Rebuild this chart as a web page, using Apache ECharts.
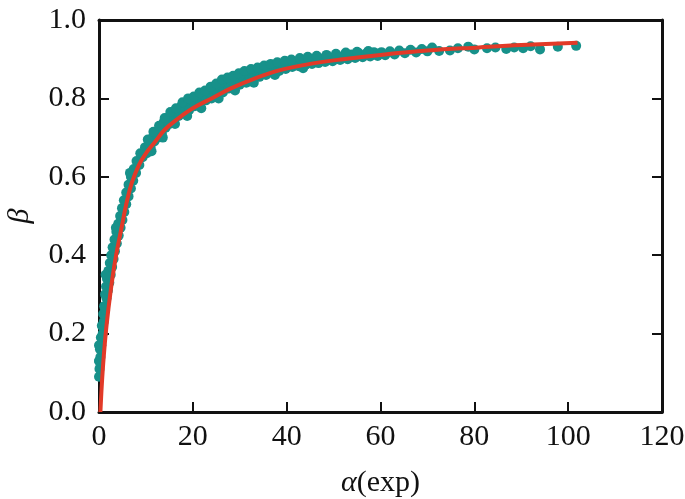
<!DOCTYPE html>
<html><head><meta charset="utf-8">
<script src="https://cdn.jsdelivr.net/npm/echarts@6/dist/echarts.min.js"></script>
<style>html,body{margin:0;padding:0;background:#fff}#c{width:685px;height:499px}</style>
</head><body><div id="c"></div>
<script>
// scatter data: alpha(exp) values and beta values
var scatterX = [0.0,0.1,0.05,0.3,0.2,0.5,0.4,0.8,0.6,1.0,0.9,1.3,1.1,1.6,1.3,1.9,1.5,2.2,1.7,2.5,2.0,2.8,2.3,3.1,2.6,3.4,2.9,3.8,3.3,4.2,3.7,4.6,4.1,5.0,4.5,5.4,4.9,5.8,5.3,6.3,5.8,6.8,6.3,7.3,6.8,7.9,7.4,8.6,8.0,9.3,8.8,
9.8,10.2,10.6,11.0,11.4,11.8,12.2,12.6,13.0,13.4,13.8,14.2,14.6,15.0,15.5,16.0,16.5,17.0,17.5,18.0,18.6,19.2,19.8,20.4,21.0,21.6,22.2,22.8,23.4,24.0,24.6,25.2,25.8,26.4,27.0,27.6,28.2,28.8,29.4,30.0,30.7,31.4,32.1,32.8,33.5,34.2,34.9,35.6,36.3,37.0,37.7,38.4,39.1,39.8,40.5,41.2,41.9,42.6,43.3,44.0,44.7,45.4,46.1,46.8,47.5,48.2,49.0,49.8,50.6,51.4,52.2,53.0,53.8,54.6,55.4,56.2,57.0,57.8,58.6,59.4,60.2,61.0,62.0,63.0,64.0,65.2,66.4,67.6,68.8,70.0,71.0,72.5,74.8,76.5,78.7,80.0,82.7,84.5,86.8,88.5,90.4,92.0,94.0,97.8,101.7,
10.4,11.6,12.8,14.0,15.2,16.4,17.8,19.0,20.2,21.4,22.6,23.8,25.0,26.2,27.4,28.6,29.8,31.0,32.4,33.8,35.2,36.6,38.0,39.6,41.0,42.8,44.5,46.4,48.5,50.5,52.6,55.0,57.4,
11.2,13.6,16.2,18.8,21.8,25.5,29.0,33.0,37.5,43.5,
0.0,0.0,1.4,3.6,6.6];
var scatterY = [0.09,0.11,0.13,0.14,0.16,0.17,0.19,0.20,0.22,0.23,0.25,0.26,0.27,0.29,0.30,0.31,0.32,0.33,0.34,0.35,0.36,0.37,0.38,0.39,0.40,0.41,0.42,0.43,0.44,0.45,0.46,0.47,0.48,0.49,0.50,0.51,0.52,0.53,0.54,0.55,0.56,0.57,0.58,0.59,0.60,0.61,0.62,0.63,0.64,0.65,0.66,
0.675,0.66,0.685,0.675,0.70,0.69,0.715,0.70,0.725,0.71,0.74,0.725,0.75,0.735,0.76,0.745,0.77,0.755,0.78,0.765,0.785,0.77,0.795,0.78,0.80,0.785,0.81,0.795,0.815,0.80,0.825,0.81,0.83,0.815,0.84,0.825,0.845,0.83,0.85,0.835,0.855,0.84,0.86,0.85,0.865,0.855,0.87,0.86,0.875,0.865,0.88,0.87,0.885,0.875,0.89,0.88,0.892,0.882,0.895,0.885,0.898,0.888,0.90,0.89,0.902,0.893,0.905,0.895,0.908,0.898,0.91,0.90,0.912,0.903,0.915,0.905,0.915,0.907,0.918,0.908,0.918,0.91,0.92,0.912,0.922,0.915,0.924,0.917,0.926,0.92,0.93,0.921,0.922,0.928,0.932,0.925,0.928,0.93,0.926,0.93,0.928,0.933,0.925,0.932,0.934,
0.695,0.715,0.73,0.75,0.765,0.775,0.79,0.80,0.805,0.815,0.82,0.83,0.838,0.848,0.853,0.858,0.864,0.87,0.875,0.879,0.884,0.888,0.892,0.896,0.899,0.903,0.906,0.909,0.911,0.914,0.917,0.919,0.921,
0.665,0.70,0.735,0.755,0.775,0.80,0.82,0.84,0.86,0.877,
0.13,0.17,0.35,0.47,0.61];
// fitted curve
var fitX = [0.3,0.6,1.0,1.6,2.5,3.5,4.8,6,7,8.5,10,12,14,17,20,24,28,33,38.6,45,52,60,70,81,90,102];
var fitY = [0.0,0.07,0.14,0.22,0.31,0.39,0.47,0.54,0.585,0.63,0.66,0.69,0.72,0.75,0.775,0.80,0.825,0.85,0.872,0.888,0.90,0.911,0.922,0.930,0.936,0.942];
var xTicks = {min:0, max:120, interval:20};
var yTicks = {min:0, max:1.0, interval:0.2};

var scatterData = scatterX.map(function(x,i){return [x, scatterY[i]];});
var fitData = fitX.map(function(x,i){return [x, fitY[i]];});

var FONT = 'Liberation Serif';
var axisLine = {show:true, onZero:false, lineStyle:{color:'#111', width:3}};
var tick = {show:true, inside:true, length:10, lineStyle:{color:'#111', width:2}};
var chart = echarts.init(document.getElementById('c'));
chart.setOption({
  animation:false,
  backgroundColor:'#fff',
  grid:{left:99, right:23, top:20, bottom:87, containLabel:false, outerBoundsMode:'none'},
  xAxis:[{
    type:'value', min:xTicks.min, max:xTicks.max, interval:xTicks.interval,
    axisLine:axisLine, axisTick:tick, splitLine:{show:false},
    axisLabel:{color:'#111', fontFamily:FONT, fontSize:30, margin:10},
    name:'{a|α}{b|(exp)}', nameLocation:'middle', nameGap:56,
    nameTextStyle:{rich:{a:{fontFamily:FONT, fontStyle:'italic', fontSize:30, color:'#111'}, b:{fontFamily:FONT, fontSize:30, color:'#111'}}}
  },{
    type:'value', position:'top', min:xTicks.min, max:xTicks.max, interval:xTicks.interval,
    axisLine:axisLine, axisTick:tick, axisLabel:{show:false}, splitLine:{show:false}
  }],
  yAxis:[{
    type:'value', min:yTicks.min, max:yTicks.max, interval:yTicks.interval,
    axisLine:axisLine, axisTick:tick, splitLine:{show:false},
    axisLabel:{color:'#111', fontFamily:FONT, fontSize:30, margin:13, formatter:function(v){return v.toFixed(1);}},
    name:'β', nameLocation:'middle', nameGap:64, nameRotate:90,
    nameTextStyle:{fontFamily:FONT, fontStyle:'italic', fontSize:30, color:'#111'}
  },{
    type:'value', position:'right', min:yTicks.min, max:yTicks.max, interval:yTicks.interval,
    axisLine:axisLine, axisTick:tick, axisLabel:{show:false}, splitLine:{show:false}
  }],
  series:[{
    type:'scatter', data:scatterData, symbolSize:10,
    itemStyle:{color:'#17918a', opacity:1}, z:2
  },{
    type:'line', data:fitData, smooth:0.4, showSymbol:false,
    lineStyle:{color:'#e23a28', width:4}, z:3
  }]
});
</script></body></html>
